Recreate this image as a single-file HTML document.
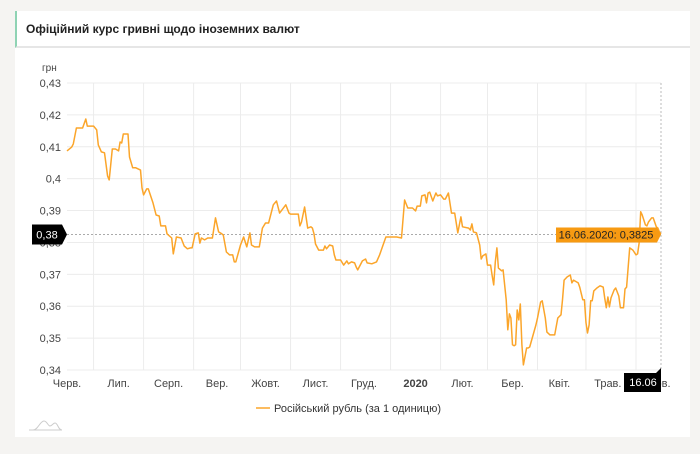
<!DOCTYPE html>
<html><head><meta charset="utf-8"><style>
body{margin:0;background:#f5f4f2;width:700px;height:454px;overflow:hidden;font-family:"Liberation Sans",sans-serif}
#card{position:absolute;left:15px;top:11px;width:675px;height:426px;background:#fff}
#hdr{position:absolute;left:15px;top:11px;width:673px;height:35px;border-left:2px solid #8fd3b4;border-bottom:2px solid #e6e6e6;background:#fff}
#hdr span{position:absolute;left:9px;top:11px;font-size:12px;font-weight:bold;color:#222}
svg{position:absolute;left:0;top:0}
</style></head><body>
<div id="card"></div>
<div id="hdr"><span>Офіційний курс гривні щодо іноземних валют</span></div>
<svg id="chart" width="700" height="454"></svg>
<script>
const days=[0,3,4,6,10,12,13,17,19,20,22,24,26,27,29,31,33,34,35,36,39,40,42,44,47,48,49,51,52,55,57,59,60,63,64,67,68,70,73,75,77,79,80,82,84,85,86,88,90,93,95,97,99,100,102,104,106,107,108,111,113,115,117,118,120,123,125,127,129,132,134,136,140,142,143,148,149,150,152,154,156,157,158,159,161,164,165,166,168,170,171,172,175,177,179,180,182,184,185,186,189,191,192,195,198,200,204,211,214,216,218,221,223,224,226,227,229,230,231,232,234,236,237,239,241,242,244,246,248,250,252,253,257,258,259,260,262,264,265,266,268,269,271,272,273,274,275,276,278,279,281,282,283,284,285,286,287,288,289,290,291,292,294,295,296,300,301,303,304,306,307,309,312,314,316,317,318,320,322,323,324,327,328,330,331,332,333,334,335,336,337,339,341,343,344,345,346,347,348,350,351,353,354,356,357,358,360,362,364,365,366,367,368,370,371,372,374,375,377,378,379,380];
const rates=[0.4087,0.4099,0.4109,0.4159,0.4159,0.4187,0.4165,0.4165,0.4153,0.4106,0.4084,0.4081,0.4008,0.3996,0.4093,0.4093,0.4087,0.4115,0.4112,0.4140,0.4140,0.4068,0.4034,0.4034,0.4027,0.3971,0.3949,0.3968,0.3968,0.3924,0.3886,0.3883,0.3852,0.3852,0.3827,0.3814,0.3764,0.3817,0.3814,0.3789,0.3780,0.3783,0.3783,0.3827,0.3830,0.3798,0.3814,0.3808,0.3814,0.3814,0.3877,0.3833,0.3827,0.3823,0.3770,0.3761,0.3761,0.3739,0.3739,0.3792,0.3817,0.3786,0.3830,0.3792,0.3786,0.3786,0.3845,0.3861,0.3861,0.3918,0.3930,0.3892,0.3918,0.3892,0.3889,0.3889,0.3852,0.3864,0.3911,0.3845,0.3849,0.3845,0.3827,0.3795,0.3776,0.3776,0.3789,0.3780,0.3792,0.3789,0.3761,0.3745,0.3745,0.3729,0.3742,0.3733,0.3739,0.3736,0.3723,0.3714,0.3742,0.3748,0.3736,0.3733,0.3739,0.3761,0.3817,0.3817,0.3814,0.3933,0.3908,0.3908,0.3899,0.3914,0.3914,0.3946,0.3949,0.3924,0.3955,0.3958,0.3930,0.3955,0.3946,0.3949,0.3936,0.3936,0.3955,0.3892,0.3892,0.3830,0.3880,0.3849,0.3845,0.3839,0.3858,0.3833,0.3830,0.3792,0.3748,0.3758,0.3764,0.3729,0.3729,0.3695,0.3667,0.3739,0.3783,0.3720,0.3711,0.3714,0.3620,0.3526,0.3576,0.3563,0.3479,0.3476,0.3479,0.3588,0.3557,0.3607,0.3479,0.3416,0.3469,0.3469,0.3472,0.3541,0.3563,0.3613,0.3617,0.3563,0.3519,0.3510,0.3510,0.3563,0.3573,0.3620,0.3682,0.3692,0.3698,0.3673,0.3682,0.3673,0.3660,0.3620,0.3620,0.3548,0.3516,0.3541,0.3617,0.3617,0.3648,0.3657,0.3664,0.3660,0.3626,0.3595,0.3629,0.3598,0.3626,0.3651,0.3657,0.3632,0.3595,0.3595,0.3654,0.3660,0.3783,0.3776,0.3761,0.3764,0.3798,0.3896,0.3886,0.3855,0.3852,0.3864,0.3877,0.3877,0.3849,0.3845,0.3833,0.3827];
const yTicks=[0.34,0.35,0.36,0.37,0.38,0.39,0.40,0.41,0.42,0.43];
const yTickLabels=["0,34","0,35","0,36","0,37","0,38","0,39","0,4","0,41","0,42","0,43"];
const monthLabels=["Черв.","Лип.","Серп.","Вер.","Жовт.","Лист.","Груд.","2020","Лют.","Бер.","Квіт.","Трав.","Черв."];
const monthDays=[0,33,65,96,127,159,190,223,253,285,315,346,377];
const gridDays=[17,49,81,111,143,175,207,239,269,301,332,364];
const hoverDay=380, hoverValue=0.3825, hoverDate="16.06.2020", hoverShort="16.06";

const X0=67,X1=661,Y0=370,Y1=83,DMAX=380,VMIN=0.34,VMAX=0.43;
const xs=d=>X0+(d/DMAX)*(X1-X0);
const ys=v=>Y0-(v-VMIN)/(VMAX-VMIN)*(Y0-Y1);
const svg=document.getElementById('chart');
const NS='http://www.w3.org/2000/svg';
function mk(tag,attrs,parent){const e=document.createElementNS(NS,tag);for(const k in attrs)e.setAttribute(k,attrs[k]);(parent||svg).appendChild(e);return e;}

yTicks.forEach((t,i)=>{
 const l=mk('line',{x1:X0,x2:X1,y1:ys(t),y2:ys(t),stroke:'#ececec','stroke-width':1});
 
 
 const tx=mk('text',{x:61,y:ys(t)+4,'text-anchor':'end','font-size':11,fill:'#444'});
 tx.textContent=yTickLabels[i];
 
 
});
gridDays.forEach(d=>{
 const l=mk('line',{x1:xs(d),x2:xs(d),y1:Y1,y2:Y0,stroke:'#ececec','stroke-width':1});
 
 
});
monthLabels.forEach((m,i)=>{
 const tx=mk('text',{x:xs(monthDays[i]),y:387,'text-anchor':'middle','font-size':11,fill:'#444','font-weight':m==='2020'?'bold':'normal'});
 tx.textContent=m;
 
 
});
const unit=mk('text',{x:42,y:71,'font-size':10,fill:'#444'});unit.textContent='грн';



// crosshair
const hy=ys(hoverValue),hx=xs(hoverDay);
const ch=mk('line',{x1:X0,x2:X1,y1:hy,y2:hy,stroke:'#aaa','stroke-dasharray':'2,2'});


const cv=mk('line',{x1:hx,x2:hx,y1:Y1,y2:Y0,stroke:'#bbb','stroke-dasharray':'2,2'});



let d='';days.forEach((dd,i)=>{d+=(i?'L':'M')+xs(dd).toFixed(1)+','+ys(rates[i]).toFixed(1);});
const line=mk('path',{d:d,fill:'none',stroke:'#fba52a','stroke-width':1.5,'stroke-linejoin':'round'});



// y label box
const yb=mk('g',{});


mk('path',{d:`M32,${hy-10}H62L67,${hy}L62,${hy+10}H32Z`,fill:'#000'},yb);
const ybt=mk('text',{x:47,y:hy+4,'text-anchor':'middle','font-size':11,fill:'#fff'},yb);ybt.textContent=yTickLabels[4];

// x label box
const xb=mk('g',{});


mk('path',{d:`M624,373H${hx-5}L${hx},368V392H624Z`,fill:'#000'},xb);
const xbt=mk('text',{x:643,y:386,'text-anchor':'middle','font-size':11,fill:'#fff'},xb);xbt.textContent=hoverShort;

// tooltip
const tt=mk('g',{});


mk('path',{d:`M556,${hy-7}H657L661,${hy}L657,${hy+8}H556Z`,fill:'#f79a12'},tt);
const ttt=mk('text',{x:606,y:hy+4,'text-anchor':'middle','font-size':11,fill:'#222'},tt);
ttt.textContent=hoverDate+': '+String(hoverValue).replace('.',',');

// legend
const lg=mk('g',{});


mk('line',{x1:256,x2:270,y1:408,y2:408,stroke:'#fba52a','stroke-width':1.5},lg);
const lt=mk('text',{x:274,y:412,'font-size':11,fill:'#333'},lg);lt.textContent='Російський рубль (за 1 одиницю)';

// logo
const lo=mk('path',{d:'M29,430H62M33,430C38,430 40,421 44,421C47,421 48,426 50,426C52,426 53,423 55,423C58,423 58,430 62,430',fill:'none',stroke:'#ccc','stroke-width':1});


</script>
</body></html>
